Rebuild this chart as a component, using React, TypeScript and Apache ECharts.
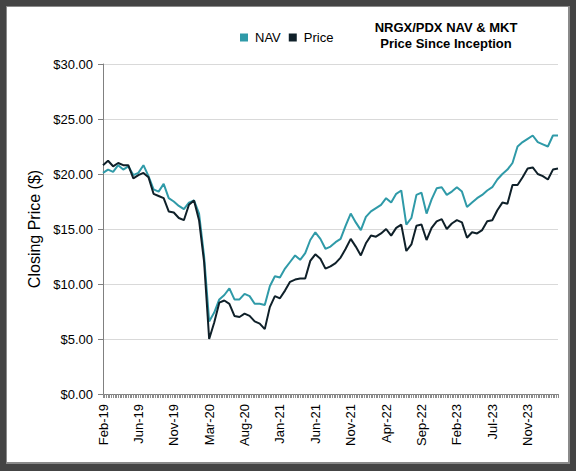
import React, { useEffect, useRef } from "react";
import * as echarts from "echarts";

const tickLabels = ["Feb-19", "Jun-19", "Nov-19", "Mar-20", "Aug-20", "Jan-21", "Jun-21", "Nov-21", "Apr-22", "Sep-22", "Feb-23", "Jul-23", "Nov-23"];
const LABEL_EVERY = 21;
const CATEGORY_COUNT = 271;
const STEP = 3;

const navValues = [
  20.1, 20.4, 20.2, 20.8, 20.4, 20.7, 19.9, 20.1, 20.8, 19.8,
  18.6, 18.4, 19.1, 17.8, 17.5, 17.1, 16.8, 17.4, 17.6, 16.4,
  12.5, 6.6, 7.4, 8.6, 9.0, 9.6, 8.6, 8.6, 9.1, 8.9,
  8.2, 8.2, 8.1, 9.8, 10.7, 10.6, 11.4, 12.0, 12.6, 12.2,
  12.8, 14.0, 14.7, 14.1, 13.2, 13.4, 13.8, 14.1, 15.3, 16.4,
  15.6, 14.9, 16.1, 16.6, 16.9, 17.2, 17.8, 17.4, 18.2, 18.5,
  15.4, 16.0, 18.1, 18.3, 16.4, 17.7, 18.7, 18.8, 18.1, 18.4,
  18.8, 18.4, 17.0, 17.4, 17.8, 18.1, 18.5, 18.8, 19.5, 20.0,
  20.4, 21.0, 22.5, 22.9, 23.2, 23.5, 22.9, 22.7, 22.5, 23.5,
  23.5,
];

const priceValues = [
  20.8, 21.2, 20.7, 21.0, 20.8, 20.8, 19.6, 19.9, 20.1, 19.7,
  18.2, 18.0, 17.8, 16.6, 16.5, 16.0, 15.8, 17.2, 17.6, 15.8,
  12.0, 5.0, 6.5, 8.3, 8.5, 8.2, 7.1, 7.0, 7.3, 7.1,
  6.6, 6.4, 5.9, 7.9, 8.9, 8.7, 9.4, 10.2, 10.4, 10.5,
  10.5, 12.1, 12.7, 12.3, 11.4, 11.6, 11.9, 12.4, 13.2, 14.1,
  13.4, 12.6, 13.7, 14.4, 14.3, 14.6, 15.0, 14.4, 15.1, 15.4,
  13.0, 13.6, 15.3, 15.4, 14.0, 15.1, 15.7, 15.9, 15.0, 15.5,
  15.8, 15.6, 14.2, 14.7, 14.6, 14.9, 15.7, 15.8, 16.7, 17.4,
  17.3, 19.0, 19.0, 19.7, 20.5, 20.6, 20.0, 19.8, 19.5, 20.4,
  20.5,
];

const categories: string[] = [];
for (let i = 0; i < CATEGORY_COUNT; i++) {
  categories.push(i % LABEL_EVERY === 0 && tickLabels[i / LABEL_EVERY] ? tickLabels[i / LABEL_EVERY] : "w" + i);
}

const FONT = "Liberation Sans, Arial, sans-serif";

export default function App() {
  const ref = useRef<HTMLDivElement>(null);
  useEffect(() => {
    if (!ref.current) return;
    const chart = echarts.init(ref.current, undefined, { renderer: "svg" });
    chart.setOption({
      animation: false,
      backgroundColor: "transparent",
      textStyle: { fontFamily: FONT },
      title: {
        text: "NRGX/PDX NAV & MKT\nPrice Since Inception",
        left: 441,
        top: 14,
        textAlign: "center",
        textStyle: { fontSize: 13, fontWeight: "bold", color: "#000", lineHeight: 16, fontFamily: FONT },
      },
      legend: {
        left: 235,
        top: 26,
        icon: "rect",
        itemWidth: 8,
        itemHeight: 8,
        itemGap: 8,
        textStyle: { fontSize: 13, color: "#000", fontFamily: FONT, padding: [0, 0, 0, 2] },
        data: ["NAV", "Price"],
      },
      grid: { left: 103, right: 18, top: 64, bottom: 77, containLabel: false },
      xAxis: {
        type: "category",
        data: categories,
        boundaryGap: false,
        axisLine: { lineStyle: { color: "#808080", width: 1 } },
        axisTick: { show: true, interval: 0, length: 4, lineStyle: { color: "#8c8c8c" } },
        axisLabel: {
          interval: (idx: number) => idx % LABEL_EVERY === 0,
          rotate: 90,
          fontSize: 13,
          color: "#000",
          margin: 10,
          fontFamily: FONT,
        },
        splitLine: { show: false },
      },
      yAxis: {
        type: "value",
        min: 0,
        max: 30,
        interval: 5,
        name: "Closing Price ($)",
        nameLocation: "middle",
        nameGap: 57,
        nameTextStyle: { fontSize: 16, color: "#000", fontFamily: FONT },
        axisLine: { show: true, lineStyle: { color: "#808080" } },
        axisTick: { show: true, length: 5, lineStyle: { color: "#808080" } },
        axisLabel: {
          formatter: (v: number) => "$" + v.toFixed(2),
          fontSize: 13,
          color: "#000",
          margin: 10,
          fontFamily: FONT,
        },
        splitLine: { lineStyle: { color: "#d9d9d9", width: 1 } },
      },
      series: [
        {
          name: "NAV",
          type: "line",
          data: navValues.map((v, k) => [k * STEP, v]),
          symbol: "none",
          lineStyle: { color: "#2f9aa8", width: 2 },
          itemStyle: { color: "#2f9aa8" },
        },
        {
          name: "Price",
          type: "line",
          data: priceValues.map((v, k) => [k * STEP, v]),
          symbol: "none",
          lineStyle: { color: "#0f2029", width: 2 },
          itemStyle: { color: "#0f2029" },
        },
      ],
    });
    return () => chart.dispose();
  }, []);

  return (
    <div style={{ position: "fixed", left: 0, top: 0, width: 576, height: 471, background: "#444444" }}>
      <div
        style={{
          position: "absolute",
          left: 6,
          top: 6,
          width: 564,
          height: 458,
          background: "#8a8a8a",
        }}
      />
      <div
        style={{
          position: "absolute",
          left: 7,
          top: 7,
          width: 561,
          height: 455,
          background: "#ffffff",
        }}
      />
      <div ref={ref} style={{ position: "absolute", left: 0, top: 0, width: 576, height: 471 }} />
    </div>
  );
}
